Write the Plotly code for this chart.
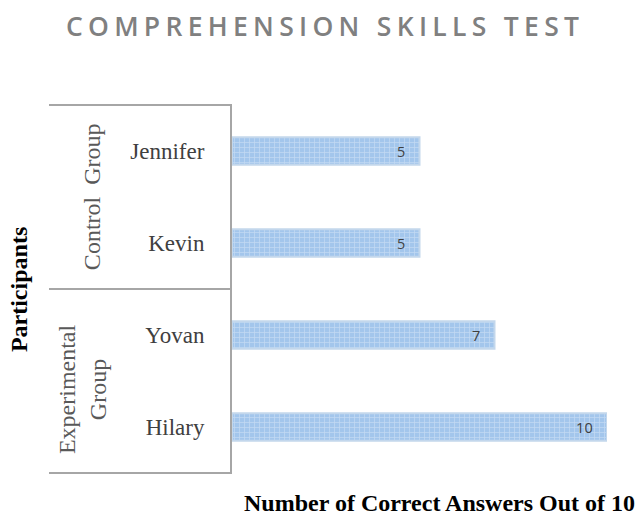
import plotly.graph_objects as go

participants = ["Jennifer", "Kevin", "Yovan", "Hilary"]
scores = [5, 5, 7, 10]
groups = ["Control  Group", "Experimental<br>Group"]
title_text = "COMPREHENSION SKILLS TEST"

sp = "\u200a"
spaced_title = (sp * 2).join(list(title_text))
pad = "\u00a0" * 3

fig = go.Figure()
fig.add_trace(go.Bar(
    y=participants, x=scores, orientation="h",
    width=0.3,
    marker=dict(color="#a7c9ee",
                line=dict(color="#c3d7ec", width=2),
                pattern=dict(shape="+", fgcolor="#e6f0fa", bgcolor="#a3c6ec", size=5, solidity=0.25)),
    text=[f"{s}{pad}" for s in scores], textposition="inside", insidetextanchor="end",
    textfont=dict(family="Open Sans", size=14.5, color="#404040"),
    constraintext="none",
    cliponaxis=False,
))

serif = "Liberation Serif"
fig.update_layout(
    width=636, height=516,
    margin=dict(l=232, r=29, t=105, b=43),
    paper_bgcolor="white", plot_bgcolor="white",
    showlegend=False,
    title=dict(text=spaced_title, x=0.507, xanchor="center", y=0.948, yanchor="middle",
               font=dict(family="Open Sans", size=26.5, color="#808080", weight=600)),
    xaxis=dict(range=[0, 10], showticklabels=False, showgrid=False, zeroline=False, showline=False),
    yaxis=dict(categoryorder="array", categoryarray=participants, autorange="reversed",
               showgrid=False, zeroline=False, showline=True, linecolor="#a6a6a6", linewidth=2,
               ticks="", ticklabelstandoff=21,
               tickfont=dict(family=serif, size=23, color="#404040")),
)

# group separators
for yy in [0, 0.5, 1]:
    fig.add_shape(type="line", xref="paper", yref="paper", x0=-0.488, x1=0, y0=yy, y1=yy,
                  line=dict(color="#a6a6a6", width=2))

fig.add_annotation(text=groups[0], xref="paper", yref="paper", x=-0.373, y=0.75, textangle=-90,
                   xanchor="center", yanchor="middle",
                   showarrow=False, font=dict(family=serif, size=24, color="#595959"))
fig.add_annotation(text=groups[1], xref="paper", yref="paper", x=-0.40, y=0.228, textangle=-90,
                   xanchor="center", yanchor="middle",
                   showarrow=False, font=dict(family=serif, size=24, color="#595959"))
fig.add_annotation(text="<b>Participants</b>", xref="paper", yref="paper", x=-0.568, y=0.497, textangle=-90,
                   xanchor="center", yanchor="middle",
                   showarrow=False, font=dict(family=serif, size=24, color="black"))
fig.add_annotation(text="<b>Number of Correct Answers Out of 10</b>", xref="paper", yref="paper",
                   x=0.552, y=-0.082, xanchor="center", yanchor="middle",
                   showarrow=False, font=dict(family=serif, size=24, color="black"))

fig.write_html("out.html", config={"displayModeBar": False},
               post_script="document.body.style.margin='0';")
